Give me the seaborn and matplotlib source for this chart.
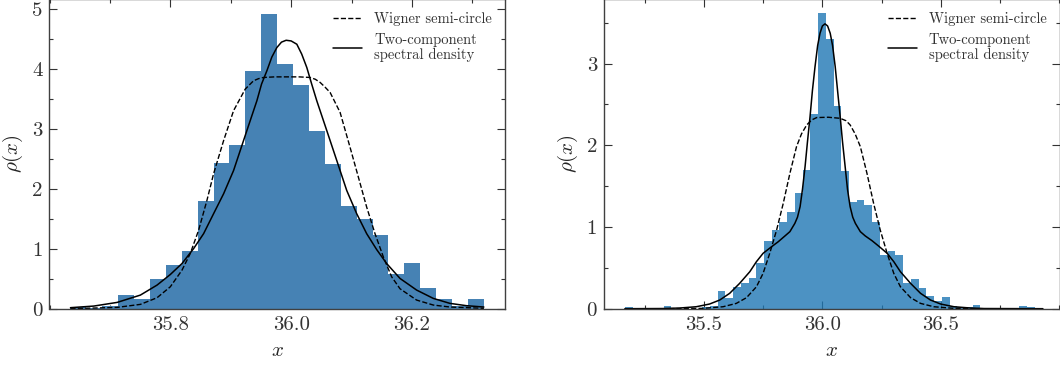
import numpy as np
import matplotlib
matplotlib.use("Agg")
import matplotlib.pyplot as plt
from matplotlib.ticker import MultipleLocator, FormatStrFormatter
import seaborn as sns

# ---- left panel: binned density + two model curves ----
left_bin_start = 35.6347
left_bin_width = 0.02632
left_heights = [0.03, 0.02, 0.05, 0.23, 0.16, 0.49, 0.73, 0.96, 1.79, 2.44,
                2.74, 3.97, 4.92, 4.09, 3.74, 2.97, 2.41, 1.72, 1.49, 1.23,
                0.58, 0.76, 0.35, 0.16, 0.05, 0.16]

left_wigner_x = [35.6347, 35.7119, 35.7504, 35.778, 35.80, 35.8193, 35.833, 35.8468,
                 35.8606, 35.8716, 35.8882, 35.9047, 35.924, 35.9377, 35.946, 35.9543,
                 35.9728, 35.9928, 36.0128, 36.0314, 36.040, 36.048, 36.056, 36.0645,
                 36.081, 36.0975, 36.1113, 36.125, 36.1388, 36.1526, 36.1664, 36.1802,
                 36.2077, 36.2353, 36.2628, 36.319]
left_wigner_y = [0.0, 0.022, 0.072, 0.183, 0.366, 0.643, 0.921, 1.309,
                 1.808, 2.252, 2.806, 3.306, 3.666, 3.805, 3.84, 3.86,
                 3.87, 3.87, 3.87, 3.86, 3.83, 3.777, 3.70, 3.61,
                 3.278, 2.695, 2.196, 1.697, 1.253, 0.865, 0.532, 0.333,
                 0.144, 0.061, 0.028, 0.006]

left_two_x = [35.6347, 35.6733, 35.7119, 35.7504, 35.778, 35.80, 35.8193, 35.8386,
              35.8551, 35.8716, 35.8882, 35.9047, 35.9157, 35.9267, 35.9433, 35.951,
              35.9598, 35.968, 35.9763, 35.984, 35.9917, 36.000, 36.0094, 36.0175,
              36.0259, 36.034, 36.0424, 36.059, 36.0755, 36.092, 36.1085, 36.125,
              36.1416, 36.1581, 36.1802, 36.2077, 36.2353, 36.2628, 36.2904, 36.319]
left_two_y = [0.017, 0.044, 0.105, 0.227, 0.394, 0.571, 0.754, 1.004,
              1.253, 1.586, 1.919, 2.307, 2.64, 2.973, 3.472, 3.75,
              3.971, 4.20, 4.359, 4.45, 4.481, 4.47, 4.415, 4.25,
              4.027, 3.75, 3.472, 2.973, 2.474, 1.974, 1.586, 1.253,
              0.987, 0.754, 0.505, 0.311, 0.172, 0.089, 0.05, 0.028]
left_ticks = [35.8, 36.0, 36.2]

# ---- right panel ----
right_bin_start = 35.167
right_bin_width = 0.0326
right_heights = [0.02, 0, 0, 0, 0, 0.03, 0, 0, 0, 0,
                 0.02, 0.03, 0.22, 0.135, 0.27, 0.32, 0.38, 0.555, 0.83, 0.96,
                 1.065, 1.18, 1.42, 1.70, 2.38, 3.62, 3.30, 2.48, 1.69, 1.30,
                 1.33, 1.27, 1.065, 0.66, 0.70, 0.66, 0.32, 0.36, 0.25, 0.155,
                 0.094, 0.14, 0.033, 0.02, 0.02, 0.04, 0, 0, 0, 0,
                 0, 0.03, 0.02]

right_wigner_x = [35.167, 35.326, 35.496, 35.581, 35.637, 35.680, 35.722, 35.750,
                  35.778, 35.807, 35.835, 35.863, 35.891, 35.912, 35.934, 35.955,
                  35.976, 36.025, 36.075, 36.100, 36.117, 36.138, 36.160, 36.188,
                  36.216, 36.244, 36.273, 36.301, 36.329, 36.372, 36.414, 36.470,
                  36.555, 36.682, 36.93]
right_wigner_y = [0.0, 0.0, 0.004, 0.024, 0.065, 0.135, 0.269, 0.433,
                  0.678, 0.963, 1.29, 1.657, 1.984, 2.14, 2.249, 2.31,
                  2.339, 2.343, 2.33, 2.30, 2.249, 2.14, 1.984, 1.657,
                  1.29, 0.963, 0.678, 0.433, 0.269, 0.135, 0.065, 0.024,
                  0.004, 0.0, 0.0]

right_two_x = [35.167, 35.326, 35.397, 35.468, 35.524, 35.567, 35.609, 35.651,
               35.694, 35.722, 35.750, 35.786, 35.814, 35.842, 35.863, 35.884,
               35.895, 35.906, 35.916, 35.927, 35.937, 35.948, 35.958, 35.969,
               35.980, 35.990, 36.000, 36.011, 36.022, 36.033, 36.043, 36.054,
               36.064, 36.075, 36.085, 36.096, 36.106, 36.117, 36.128, 36.139,
               36.160, 36.181, 36.209, 36.237, 36.273, 36.301, 36.329, 36.372,
               36.414, 36.456, 36.499, 36.555, 36.626, 36.682, 36.93]
right_two_y = [0.0, 0.002, 0.008, 0.024, 0.057, 0.106, 0.188, 0.31,
               0.453, 0.576, 0.678, 0.759, 0.82, 0.89, 0.943, 1.045,
               1.12, 1.249, 1.46, 1.739, 2.04, 2.351, 2.67, 2.963,
               3.22, 3.371, 3.46, 3.486, 3.46, 3.371, 3.22, 2.963,
               2.67, 2.351, 2.04, 1.739, 1.46, 1.249, 1.12, 1.045,
               0.943, 0.89, 0.833, 0.767, 0.678, 0.576, 0.453, 0.31,
               0.188, 0.106, 0.057, 0.024, 0.008, 0.002, 0.0]
right_ticks = [35.5, 36.0, 36.5]

sns.set_theme(style="ticks")
plt.rcParams["font.family"] = "serif"
plt.rcParams["font.serif"] = ["cmr10"]
plt.rcParams["mathtext.fontset"] = "cm"
plt.rcParams["axes.unicode_minus"] = False
plt.rcParams["axes.formatter.use_mathtext"] = True


def draw_panel(ax, start, width, heights, bar_color, bar_alpha,
               wx, wy, tx, ty, xlim, ylim, xticks, xminor, ymax_tick):
    n = len(heights)
    centers = start + width * (np.arange(n) + 0.5)
    sns.histplot(x=centers, weights=heights, bins=n,
                 binrange=(start, start + n * width), stat="count",
                 color=bar_color, alpha=bar_alpha, edgecolor="none",
                 linewidth=0, ax=ax)
    sns.lineplot(x=wx, y=wy, color="black", linestyle="--", lw=1.0,
                 label="Wigner semi-circle", ax=ax)
    sns.lineplot(x=tx, y=ty, color="black", lw=1.1,
                 label="Two-component\nspectral density", ax=ax)

    ax.set_xlim(*xlim)
    ax.set_ylim(*ylim)
    ax.set_xticks(xticks)
    ax.xaxis.set_minor_locator(MultipleLocator(xminor))
    ax.xaxis.set_major_formatter(FormatStrFormatter("%.1f"))
    ax.set_yticks(range(0, ymax_tick + 1))
    ax.yaxis.set_minor_locator(MultipleLocator(0.5))
    ax.yaxis.set_major_formatter(FormatStrFormatter("%d"))

    ax.tick_params(which="both", direction="in", top=True, right=True,
                   colors="0.2", labelsize=15, width=0.8)
    ax.tick_params(which="major", length=5.5, pad=5)
    ax.tick_params(which="minor", length=3)
    for sp in ax.spines.values():
        sp.set_color("0.25")
        sp.set_linewidth(1.0)

    ax.set_xlabel(r"$x$", fontsize=15, labelpad=6)
    ax.set_ylabel(r"$\rho(x)$", fontsize=15, labelpad=5)

    leg = ax.legend(loc="upper right", frameon=False, fontsize=10.5,
                    handlelength=2.0, borderaxespad=0.5)
    for t in leg.get_texts():
        t.set_linespacing(1.0)
        t.set_color("0.2")


fig = plt.figure(figsize=(10.6, 3.69), dpi=100)
ax1 = fig.add_axes([49.5 / 1060, 60.3 / 369, 455.5 / 1060, 309.7 / 369])
ax2 = fig.add_axes([604 / 1060, 60.3 / 369, 455.5 / 1060, 309.7 / 369])

draw_panel(ax1, left_bin_start, left_bin_width, left_heights, "#4682b4", 1.0,
           left_wigner_x, left_wigner_y, left_two_x, left_two_y,
           (35.600, 36.354), (0, 5.17), left_ticks, 0.1, 5)
draw_panel(ax2, right_bin_start, right_bin_width, right_heights, "#1f77b4", 0.8,
           right_wigner_x, right_wigner_y, right_two_x, right_two_y,
           (35.079, 37.0), (0, 3.79), right_ticks, 0.25, 3)

fig.savefig("out.png", dpi=100)
